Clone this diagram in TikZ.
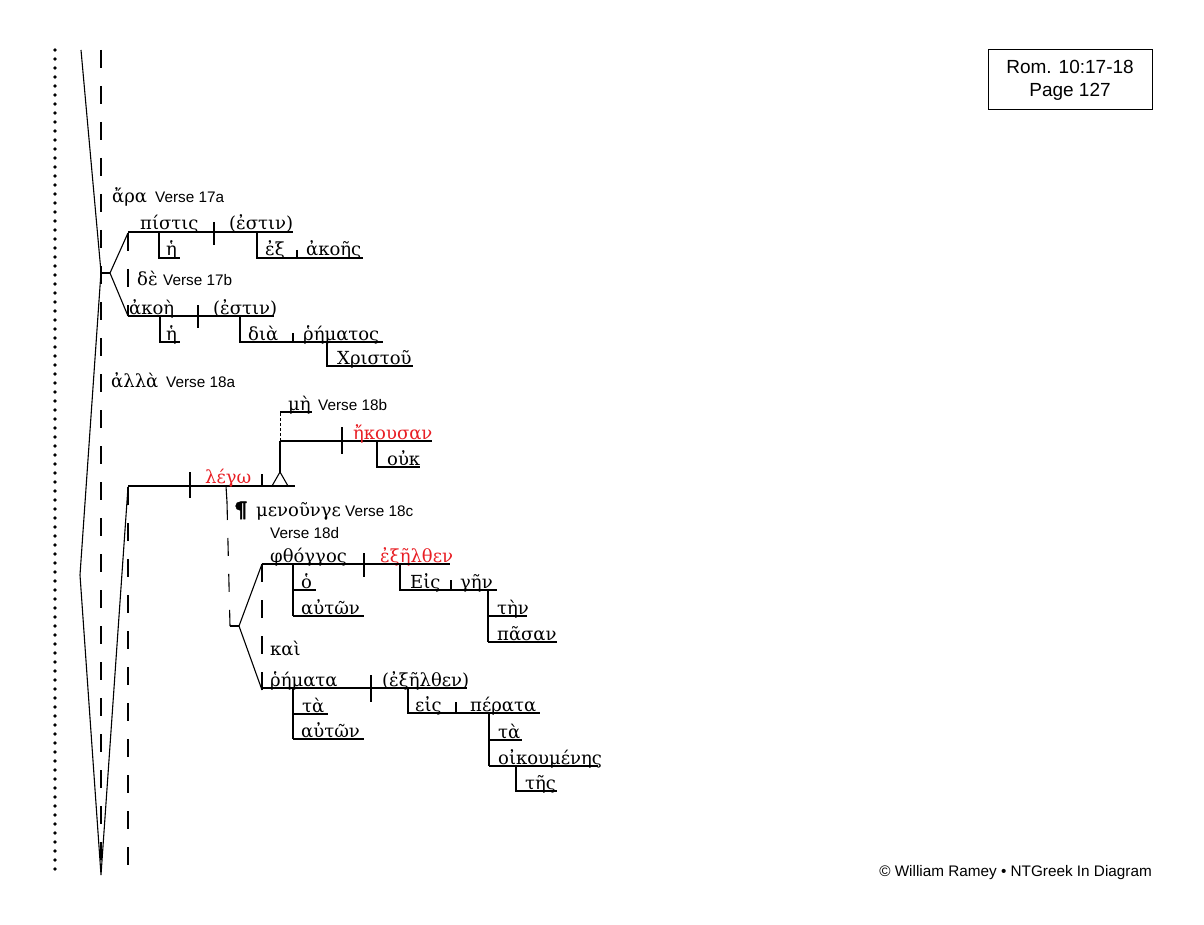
\documentclass[tikz,border=0pt]{standalone}
\usepackage{fontspec}
\newfontfamily\gr{DejaVu Serif}
\newfontfamily\grb[FakeBold=2.5]{DejaVu Serif Bold}
\newfontfamily\ar{Liberation Sans}
\definecolor{wred}{RGB}{232,30,36}
\begin{document}
\begin{tikzpicture}[x=1pt,y=-1pt,
  ln/.style={line width=1.1pt},
  dsh/.style={line width=1.1pt,dash pattern=on 18pt off 18pt},
  fdsh/.style={line width=1pt,dash pattern=on 3pt off 2pt},
  dots/.style={line width=3.8pt,line cap=round,dash pattern=on 0pt off 9pt},
  w/.style={anchor=base west,inner sep=0pt,font=\gr\fontsize{18}{22}\selectfont},
  rw/.style={w,text=wred},
  vs/.style={anchor=base west,inner sep=0pt,font=\ar\fontsize{15.3}{18}\selectfont}]
\useasboundingbox (0,0) rectangle (1204,925);
% left margin structure
\draw[dots] (55,50) -- (55,876);
\draw[dsh] (101,50) -- (101,875);
\draw[dsh] (128,487) -- (128,875);
\draw[ln] (81,50) -- (101,272) -- (80,575) -- (101,875) -- (128,487);
% verse 17a/b
\node[w] (ara) at (112,203) {ἄρα};
\node[vs] (v17a) at (155,203) {Verse 17a};
\draw[ln] (101,273) -- (110,273);
\draw[ln] (128,233) -- (110,273) -- (128,316);
\draw[dsh] (128,233) -- (128,316);
\node[w] (pistis) at (140,230) {πίστις};
\node[w] (estin1) at (229,230) {(ἐστιν)};
\draw[ln] (128,232) -- (293,232);
\draw[ln] (214,222) -- (214,245);
\draw[ln] (159,232) |- (180,258);
\node[w] (he1) at (166,256) {ἡ};
\draw[ln] (257,232) |- (363,258);
\draw[ln] (297,250) -- (297,258);
\node[w] (ex) at (265,256) {ἐξ};
\node[w] (akoes) at (306,256) {ἀκοῆς};
\node[w] (de) at (137,285) {δὲ};
\node[vs] (v17b) at (163,285) {Verse 17b};
\node[w] (akoe) at (129,314) {ἀκοὴ};
\node[w] (estin2) at (213,314) {(ἐστιν)};
\draw[ln] (128,316) -- (274,316);
\draw[ln] (198,305) -- (198,328);
\draw[ln] (160,316) |- (180,342);
\node[w] (he2) at (166,340) {ἡ};
\draw[ln] (240,316) |- (383,342);
\draw[ln] (293,333) -- (293,342);
\node[w] (dia) at (248,340) {διὰ};
\node[w] (rhematos) at (303,340) {ῥήματος};
\draw[ln] (327,342) |- (413,366);
\node[w] (christou) at (337,364) {Χριστοῦ};
% verse 18a
\node[w] (alla) at (111,387) {ἀλλὰ};
\node[vs] (v18a) at (166,387) {Verse 18a};
\draw[ln] (128,486) -- (295,486);
\draw[ln] (190,472) -- (190,498);
\node[rw] (lego) at (205,483) {λέγω};
\draw[ln] (262,474) -- (262,486);
\draw[ln] (272,486) -- (280,472) -- (288,486);
\draw[ln] (280,472) -- (280,441);
\draw[fdsh] (280,441) -- (280,412);
\draw[ln] (280,412) -- (312,412);
\node[w] (me) at (288,410) {μὴ};
\node[vs] (v18b) at (318,410) {Verse 18b};
\draw[ln] (280,441) -- (432,441);
\draw[ln] (342,427) -- (342,454);
\node[rw] (ekousan) at (353,439) {ἤκουσαν};
\draw[ln] (377,441) |- (420,467);
\node[w] (ouk) at (387,465) {οὐκ};
% verse 18c/d
\draw[ln] (226,486) -- (227,502);
\draw[dsh] (227,502) -- (230,626);
\draw[ln] (230,626) -- (239,626);
\draw[ln] (262,564) -- (239,626) -- (262,690);
\draw[dsh] (262,564) -- (262,690);
\node[anchor=base west,inner sep=0pt,font=\grb\fontsize{21}{24}\selectfont] (para) at (234,517) {¶};
\node[w] (menounge) at (256,516) {μενοῦνγε};
\node[vs] (v18c) at (345,516) {Verse 18c};
\node[vs] (v18d) at (270,538) {Verse 18d};
\node[w] (phthoggos) at (270,562) {φθόγγος};
\node[rw] (exelthen) at (380,562) {ἐξῆλθεν};
\draw[ln] (262,564) -- (450,564);
\draw[ln] (364,553) -- (364,577);
\draw[ln] (293,564) -- (293,616);
\draw[ln] (293,590) -- (316,590);
\draw[ln] (293,616) -- (364,616);
\node[w] (ho) at (301,588) {ὁ};
\node[w] (auton1) at (301,614) {αὐτῶν};
\draw[ln] (400,564) |- (497,590);
\draw[ln] (451,580) -- (451,590);
\node[w] (Eis) at (410,588) {Εἰς};
\node[w] (gen) at (460,588) {γῆν};
\draw[ln] (488,590) -- (488,642);
\draw[ln] (488,616) -- (527,616);
\draw[ln] (488,642) -- (557,642);
\node[w] (ten) at (497,614) {τὴν};
\node[w] (pasan) at (497,640) {πᾶσαν};
\node[w] (kai) at (270,655) {καὶ};
\node[w] (rhemata) at (270,686) {ῥήματα};
\node[w] (exelthen2) at (382,686) {(ἐξῆλθεν)};
\draw[ln] (262,688) -- (467,688);
\draw[ln] (371,675) -- (371,702);
\draw[ln] (293,688) -- (293,739);
\draw[ln] (293,714) -- (328,714);
\draw[ln] (293,739) -- (364,739);
\node[w] (ta1) at (302,712) {τὰ};
\node[w] (auton2) at (301,737) {αὐτῶν};
\draw[ln] (408,688) |- (540,713);
\draw[ln] (456,702) -- (456,713);
\node[w] (eis) at (415,711) {εἰς};
\node[w] (perata) at (470,711) {πέρατα};
\draw[ln] (489,713) -- (489,766);
\draw[ln] (489,740) -- (522,740);
\draw[ln] (489,766) -- (598,766);
\node[w] (ta2) at (498,738) {τὰ};
\node[w] (oikoumenes) at (498,764) {οἰκουμένης};
\draw[ln] (516,766) |- (557,791);
\node[w] (tes) at (525,789) {τῆς};
% title box
\draw[line width=1pt] (988,50) rectangle (1152,110);
\node[font=\ar\fontsize{19}{23}\selectfont,align=center,inner sep=0pt] (title) at (1070,80) {Rom. 10:17-18\\Page 127};
\node[anchor=base east,inner sep=0pt,font=\ar\fontsize{15.3}{18}\selectfont] (copy) at (1152,876) {© William Ramey • NTGreek In Diagram};
\end{tikzpicture}
\end{document}
